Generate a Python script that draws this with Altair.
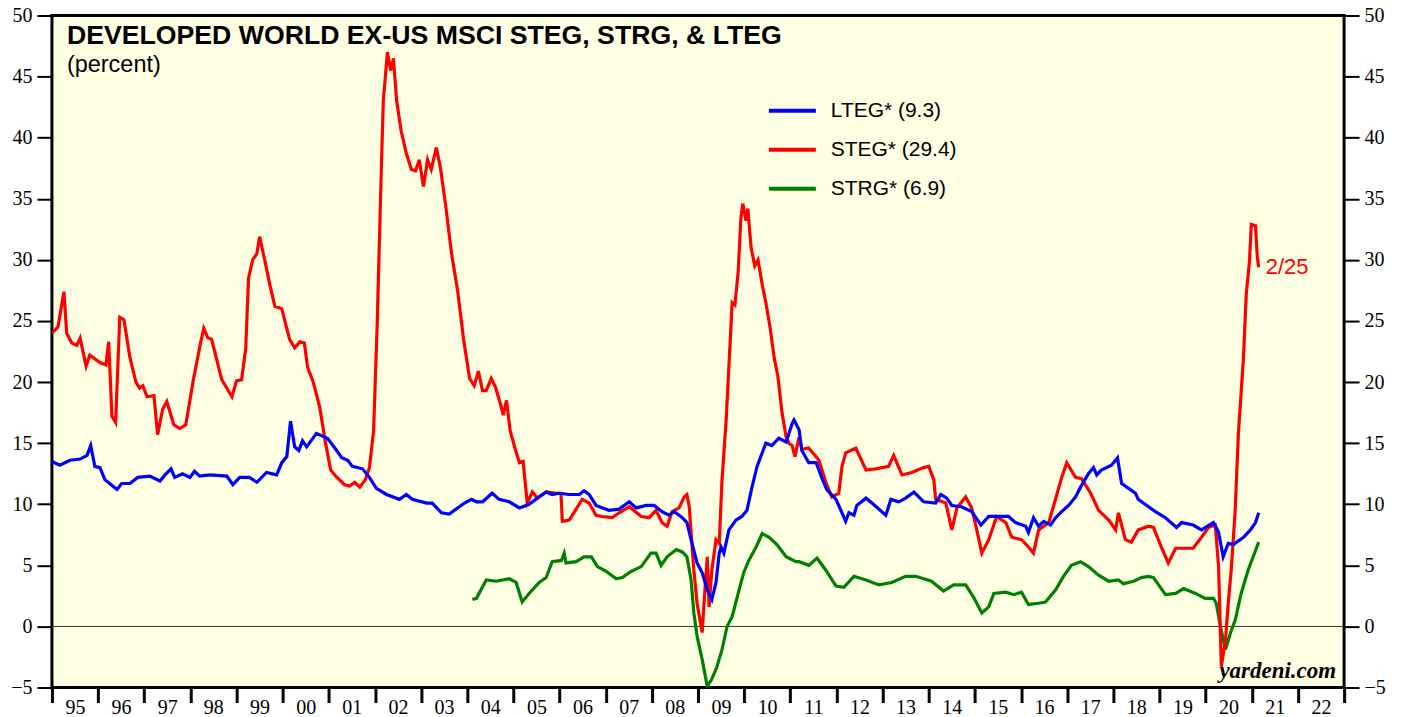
import altair as alt
import pandas as pd

# ---------------- data ----------------
steg_year = [1995.00, 1995.13, 1995.26, 1995.32, 1995.43, 1995.54, 1995.61, 1995.74, 1995.82, 1996.04,
             1996.17, 1996.23, 1996.30, 1996.38, 1996.47, 1996.56, 1996.69, 1996.82, 1996.90, 1996.97,
             1997.06, 1997.21, 1997.29, 1997.40, 1997.49, 1997.64, 1997.77, 1997.90, 1998.07, 1998.22,
             1998.29, 1998.38, 1998.46, 1998.68, 1998.90, 1999.00, 1999.11, 1999.20, 1999.26, 1999.35,
             1999.44, 1999.50, 1999.61, 1999.72, 1999.83, 1999.98, 2000.15, 2000.26, 2000.37, 2000.47,
             2000.54, 2000.67, 2000.80, 2000.93, 2001.04, 2001.15, 2001.34, 2001.45, 2001.56, 2001.67,
             2001.79, 2001.88, 2001.97, 2002.05, 2002.12, 2002.18, 2002.27, 2002.34, 2002.40, 2002.47,
             2002.57, 2002.68, 2002.79, 2002.88, 2002.96, 2003.05, 2003.14, 2003.22, 2003.33, 2003.42,
             2003.53, 2003.66, 2003.79, 2003.92, 2004.05, 2004.15, 2004.24, 2004.33, 2004.41, 2004.52,
             2004.61, 2004.72, 2004.78, 2004.85, 2004.93, 2005.04, 2005.13, 2005.21, 2005.30, 2005.41,
             2005.52, 2005.71, 2005.93, 2006.03, 2006.06, 2006.21, 2006.49, 2006.64, 2006.79, 2006.92,
             2007.14, 2007.29, 2007.51, 2007.77, 2007.94, 2008.09, 2008.22, 2008.33, 2008.44, 2008.59,
             2008.70, 2008.76, 2008.81, 2008.91, 2008.98, 2009.09, 2009.13, 2009.20, 2009.24, 2009.30,
             2009.39, 2009.46, 2009.52, 2009.61, 2009.74, 2009.80, 2009.87, 2009.93, 2009.97, 2010.04,
             2010.08, 2010.15, 2010.23, 2010.30, 2010.39, 2010.47, 2010.56, 2010.65, 2010.73, 2010.82,
             2010.91, 2010.97, 2011.04, 2011.10, 2011.19, 2011.25, 2011.40, 2011.62, 2011.77, 2011.90,
             2012.05, 2012.12, 2012.20, 2012.42, 2012.64, 2012.85, 2013.13, 2013.24, 2013.42, 2013.63,
             2013.89, 2014.00, 2014.11, 2014.15, 2014.37, 2014.50, 2014.61, 2014.80, 2014.93, 2015.04,
             2015.15, 2015.30, 2015.47, 2015.67, 2015.80, 2016.01, 2016.16, 2016.27, 2016.38, 2016.60,
             2016.70, 2016.88, 2016.99, 2017.18, 2017.31, 2017.51, 2017.68, 2017.90, 2018.05, 2018.11,
             2018.26, 2018.39, 2018.54, 2018.76, 2018.87, 2019.04, 2019.19, 2019.35, 2019.56, 2019.73,
             2019.91, 2020.06, 2020.21, 2020.28, 2020.34, 2020.43, 2020.49, 2020.56, 2020.64, 2020.71,
             2020.82, 2020.88, 2020.95, 2020.99, 2021.08, 2021.12, 2021.15]
steg_val = [24.0, 24.5, 27.4, 24.0, 23.2, 23.0, 23.6, 21.3, 22.2, 21.6,
            21.4, 23.3, 17.2, 16.7, 25.3, 25.1, 22.0, 20.0, 19.5, 19.7,
            18.8, 18.9, 15.7, 17.8, 18.4, 16.5, 16.2, 16.5, 20.3, 23.2,
            24.4, 23.6, 23.5, 20.2, 18.8, 20.1, 20.2, 22.8, 28.5, 30.0,
            30.5, 31.9, 30.0, 28.0, 26.2, 26.0, 23.5, 22.8, 23.3, 23.2,
            21.2, 19.9, 18.0, 15.0, 12.8, 12.3, 11.6, 11.5, 11.8, 11.4,
            12.0, 13.0, 16.0, 25.0, 35.0, 43.0, 47.0, 45.5, 46.5, 43.0,
            40.5, 38.7, 37.4, 37.3, 38.2, 36.0, 38.2, 37.4, 39.2, 37.5,
            34.5, 30.5, 27.5, 23.5, 20.3, 19.7, 20.9, 19.3, 19.3, 20.3,
            19.6, 18.2, 17.3, 18.5, 16.0, 14.5, 13.4, 13.5, 10.1, 11.0,
            10.5, 11.0, 10.9, 10.9, 8.6, 8.7, 10.4, 10.1, 9.1, 9.0,
            8.9, 9.3, 9.8, 9.0, 8.9, 9.5, 8.5, 8.2, 9.4, 9.7,
            10.6, 10.8, 9.8, 4.6, 1.9, -0.5, 1.9, 5.7, 1.6, 4.6,
            7.1, 6.8, 12.0, 16.9, 26.5, 26.3, 29.0, 33.5, 34.6, 33.2,
            34.2, 31.0, 29.5, 30.0, 28.0, 26.5, 24.5, 22.0, 20.5, 17.5,
            15.5, 15.0, 14.8, 13.9, 15.5, 14.5, 14.6, 13.6, 11.8, 10.6,
            10.9, 13.1, 14.2, 14.6, 12.8, 12.9, 13.1, 14.0, 12.4, 12.6,
            13.0, 13.1, 12.0, 10.4, 10.1, 7.9, 9.7, 10.6, 9.7, 7.9,
            6.0, 7.1, 9.0, 8.5, 7.3, 7.1, 6.5, 6.0, 7.9, 8.5,
            9.8, 12.2, 13.4, 12.2, 12.1, 10.9, 9.5, 8.7, 7.9, 9.3,
            7.1, 6.9, 7.9, 8.2, 8.1, 6.5, 5.2, 6.4, 6.4, 6.4,
            7.3, 8.1, 8.3, 4.9, -3.3, -1.1, 1.9, 4.9, 9.5, 15.8,
            22.0, 27.2, 29.9, 32.9, 32.8, 30.2, 29.4]

lteg_year = [1995.00, 1995.17, 1995.39, 1995.61, 1995.76, 1995.84, 1995.93, 1996.04, 1996.15, 1996.41,
             1996.51, 1996.69, 1996.86, 1997.12, 1997.34, 1997.45, 1997.58, 1997.66, 1997.83, 1997.99,
             1998.09, 1998.20, 1998.42, 1998.79, 1998.92, 1999.07, 1999.28, 1999.44, 1999.65, 1999.87,
             1999.98, 2000.09, 2000.17, 2000.26, 2000.35, 2000.43, 2000.52, 2000.73, 2000.97, 2001.17,
             2001.28, 2001.41, 2001.51, 2001.73, 2001.88, 2002.03, 2002.25, 2002.53, 2002.68, 2002.81,
             2003.12, 2003.24, 2003.44, 2003.61, 2003.79, 2003.94, 2004.09, 2004.20, 2004.33, 2004.54,
             2004.69, 2004.91, 2005.13, 2005.34, 2005.52, 2005.71, 2005.84, 2005.99, 2006.21, 2006.43,
             2006.53, 2006.64, 2006.79, 2007.07, 2007.29, 2007.51, 2007.66, 2007.88, 2008.05, 2008.22,
             2008.37, 2008.48, 2008.66, 2008.76, 2008.87, 2008.98, 2009.09, 2009.20, 2009.30, 2009.39,
             2009.46, 2009.50, 2009.56, 2009.67, 2009.82, 2009.95, 2010.06, 2010.17, 2010.28, 2010.47,
             2010.60, 2010.75, 2010.91, 2011.04, 2011.08, 2011.19, 2011.25, 2011.40, 2011.56, 2011.68,
             2011.79, 2011.99, 2012.12, 2012.20, 2012.27, 2012.38, 2012.44, 2012.64, 2012.77, 2013.07,
             2013.18, 2013.35, 2013.50, 2013.68, 2013.89, 2014.15, 2014.26, 2014.39, 2014.50, 2014.71,
             2014.93, 2015.13, 2015.30, 2015.51, 2015.73, 2015.88, 2016.10, 2016.16, 2016.27, 2016.38,
             2016.49, 2016.64, 2016.75, 2016.88, 2017.03, 2017.18, 2017.29, 2017.46, 2017.57, 2017.64,
             2017.74, 2017.96, 2018.09, 2018.18, 2018.33, 2018.48, 2018.54, 2018.65, 2018.91, 2019.13,
             2019.37, 2019.48, 2019.73, 2019.91, 2020.17, 2020.28, 2020.38, 2020.49, 2020.60, 2020.82,
             2020.97, 2021.08, 2021.15]
lteg_val = [13.5, 13.2, 13.6, 13.7, 14.0, 14.8, 13.1, 13.0, 12.0, 11.2,
            11.7, 11.7, 12.2, 12.3, 11.9, 12.4, 12.9, 12.2, 12.5, 12.2,
            12.7, 12.3, 12.4, 12.3, 11.6, 12.2, 12.2, 11.8, 12.6, 12.4,
            13.4, 13.9, 16.8, 14.7, 14.4, 15.2, 14.7, 15.8, 15.4, 14.4,
            13.8, 13.6, 13.1, 12.9, 12.2, 11.3, 10.8, 10.4, 10.8, 10.4,
            10.1, 10.1, 9.3, 9.2, 9.7, 10.1, 10.4, 10.2, 10.2, 10.9,
            10.4, 10.2, 9.7, 10.0, 10.5, 11.0, 10.8, 10.9, 10.8, 10.8,
            11.1, 10.8, 9.9, 9.5, 9.6, 10.2, 9.7, 9.9, 9.9, 9.4,
            9.1, 9.4, 8.9, 8.5, 6.8, 5.2, 4.4, 3.0, 2.2, 3.6,
            6.0, 6.5, 6.0, 7.9, 8.7, 9.0, 9.5, 11.4, 13.1, 15.0,
            14.8, 15.4, 15.1, 16.6, 16.9, 16.1, 14.4, 13.4, 13.4, 12.2,
            11.2, 10.4, 9.3, 8.6, 9.3, 9.1, 9.9, 10.5, 10.1, 9.1,
            10.4, 10.2, 10.5, 11.0, 10.2, 10.1, 10.8, 10.5, 9.9, 9.8,
            9.4, 8.3, 9.0, 9.0, 9.0, 8.5, 8.2, 7.7, 8.9, 8.2,
            8.6, 8.3, 8.9, 9.4, 9.9, 10.6, 11.4, 12.5, 13.0, 12.4,
            12.8, 13.2, 13.8, 11.7, 11.3, 10.9, 10.4, 10.1, 9.4, 8.9,
            8.1, 8.5, 8.3, 7.9, 8.5, 7.7, 5.7, 6.8, 6.7, 7.3,
            7.9, 8.5, 9.3]

strg_year = [2004.11, 2004.20, 2004.41, 2004.63, 2004.91, 2005.06, 2005.19, 2005.34, 2005.56, 2005.71,
             2005.84, 2006.04, 2006.10, 2006.14, 2006.36, 2006.53, 2006.69, 2006.82, 2007.01, 2007.23,
             2007.36, 2007.55, 2007.77, 2007.98, 2008.09, 2008.20, 2008.33, 2008.53, 2008.66, 2008.76,
             2008.85, 2008.91, 2008.98, 2009.09, 2009.20, 2009.30, 2009.41, 2009.52, 2009.63, 2009.74,
             2009.89, 2009.99, 2010.10, 2010.26, 2010.39, 2010.54, 2010.71, 2010.91, 2011.12, 2011.19,
             2011.40, 2011.58, 2011.77, 2011.99, 2012.16, 2012.38, 2012.64, 2012.92, 2013.20, 2013.50,
             2013.72, 2014.06, 2014.32, 2014.54, 2014.80, 2014.97, 2015.15, 2015.30, 2015.41, 2015.67,
             2015.84, 2016.01, 2016.16, 2016.38, 2016.53, 2016.75, 2016.92, 2017.09, 2017.29, 2017.46,
             2017.68, 2017.90, 2018.11, 2018.22, 2018.44, 2018.61, 2018.76, 2018.87, 2019.13, 2019.35,
             2019.52, 2019.78, 2019.99, 2020.17, 2020.23, 2020.32, 2020.43, 2020.54, 2020.64, 2020.77,
             2020.92, 2021.03, 2021.15]
strg_val = [2.2, 2.3, 3.8, 3.7, 3.9, 3.6, 2.0, 2.7, 3.6, 4.0,
            5.3, 5.4, 6.0, 5.2, 5.3, 5.7, 5.7, 4.9, 4.5, 3.9,
            4.0, 4.5, 4.9, 6.0, 6.0, 5.0, 5.7, 6.3, 6.1, 5.7,
            3.8, 1.1, -0.8, -2.7, -4.9, -4.3, -3.3, -1.9, 0.0, 0.8,
            3.0, 4.4, 5.4, 6.5, 7.6, 7.3, 6.7, 5.7, 5.3, 5.3,
            5.0, 5.6, 4.6, 3.3, 3.2, 4.1, 3.8, 3.4, 3.6, 4.1,
            4.1, 3.7, 2.9, 3.4, 3.4, 2.4, 1.1, 1.6, 2.7, 2.8,
            2.6, 2.8, 1.8, 1.9, 2.0, 3.0, 4.1, 5.0, 5.3, 4.9,
            4.2, 3.7, 3.8, 3.5, 3.7, 4.0, 4.1, 4.0, 2.6, 2.7,
            3.1, 2.7, 2.3, 2.3, 1.9, 0.0, -1.9, -0.5, 0.5, 2.7,
            4.6, 5.7, 6.9]

series_labels = ["LTEG* (9.3)", "STEG* (29.4)", "STRG* (6.9)"]
series_colors = ["#0000FF", "#FF0000", "#008000"]
x_tick_values = list(range(1995, 2024))
y_tick_values = list(range(-5, 51, 5))
title_text = "DEVELOPED WORLD EX-US MSCI STEG, STRG, & LTEG"
subtitle_text = "(percent)"
last_date_label = "2/25"
source_text = "yardeni.com"

# ---------------- build table ----------------
df = pd.concat([
    pd.DataFrame({"year": strg_year, "value": strg_val, "series": series_labels[2]}),
    pd.DataFrame({"year": steg_year, "value": steg_val, "series": series_labels[1]}),
    pd.DataFrame({"year": lteg_year, "value": lteg_val, "series": series_labels[0]}),
], ignore_index=True)

last_df = pd.DataFrame({"year": [steg_year[-1]], "value": [steg_val[-1]], "t": [last_date_label]})

xscale = alt.Scale(domain=[1995, 2023], nice=False, zero=False)
yscale = alt.Scale(domain=[-5, 50], nice=False, zero=False)

x_axis = alt.Axis(values=x_tick_values, title=None, grid=False, domain=False,
                  labelExpr="datum.value < 2023 ? substring(toString(datum.value), 2, 4) : ''",
                  labelOffset=23, tickSize=15, tickWidth=3, tickColor="black",
                  labelFont="Liberation Serif", labelFontSize=20, labelColor="black",
                  labelPadding=-5, labelFlush=False, labelOverlap=False)
x_enc = alt.X("year:Q", scale=xscale, axis=x_axis)

def y_axis(orient):
    return alt.Axis(values=y_tick_values, orient=orient, title=None, grid=False, domain=False,
                    tickSize=15, tickWidth=2, tickColor="black",
                    labelFont="Liberation Serif", labelFontSize=20, labelColor="black",
                    labelPadding=5, labelFlush=False, labelOverlap=False)

zero_rule = alt.Chart(pd.DataFrame({"v": [0]})).mark_rule(color="#333333", strokeWidth=1).encode(
    y=alt.Y("v:Q", scale=yscale, axis=y_axis("right"))
)

lines = alt.Chart(df).mark_line(strokeWidth=3.2, clip=True).encode(
    x=x_enc,
    y=alt.Y("value:Q", scale=yscale, axis=y_axis("left")),
    color=alt.Color("series:N", sort=series_labels,
                    scale=alt.Scale(domain=series_labels, range=series_colors),
                    legend=alt.Legend(orient="none", legendX=716, legendY=70, title=None,
                                      symbolType="stroke", symbolStrokeWidth=4, symbolSize=2209,
                                      labelFont="Liberation Sans", labelFontSize=21,
                                      labelColor="black", labelOffset=13, rowPadding=3,
                                      padding=0)),
)

last_label = alt.Chart(last_df).mark_text(align="left", baseline="middle", dx=7,
                                           font="Liberation Sans", fontSize=22,
                                           color="#FF0000").encode(
    x=x_enc,
    y=alt.Y("value:Q", scale=yscale, axis=None),
    text="t:N",
)

title = alt.Chart(pd.DataFrame({"t": [title_text]})).mark_text(
    align="left", baseline="alphabetic", font="Liberation Sans", fontWeight="bold",
    fontSize=26.7, color="black").encode(x=alt.value(15), y=alt.value(29), text="t:N")

subtitle = alt.Chart(pd.DataFrame({"t": [subtitle_text]})).mark_text(
    align="left", baseline="alphabetic", font="Liberation Sans",
    fontSize=23.5, color="black").encode(x=alt.value(15), y=alt.value(57), text="t:N")

source = alt.Chart(pd.DataFrame({"t": [source_text]})).mark_text(
    align="right", baseline="alphabetic", font="Liberation Serif", fontWeight="bold",
    fontStyle="italic", fontSize=23, color="black").encode(x=alt.value(1286), y=alt.value(663), text="t:N")

chart = alt.layer(zero_rule, lines, last_label, title, subtitle, source).resolve_scale(
    y="independent"
).properties(
    width=1294, height=673,
    padding={"left": 44, "top": 7, "right": 55, "bottom": 29},
    autosize=alt.AutoSizeParams(type="none"),
    background="white",
).configure_view(fill="#FFFFE3", stroke="black", strokeWidth=3)

chart.save("out.html", embed_options={"renderer": "svg", "actions": False})
